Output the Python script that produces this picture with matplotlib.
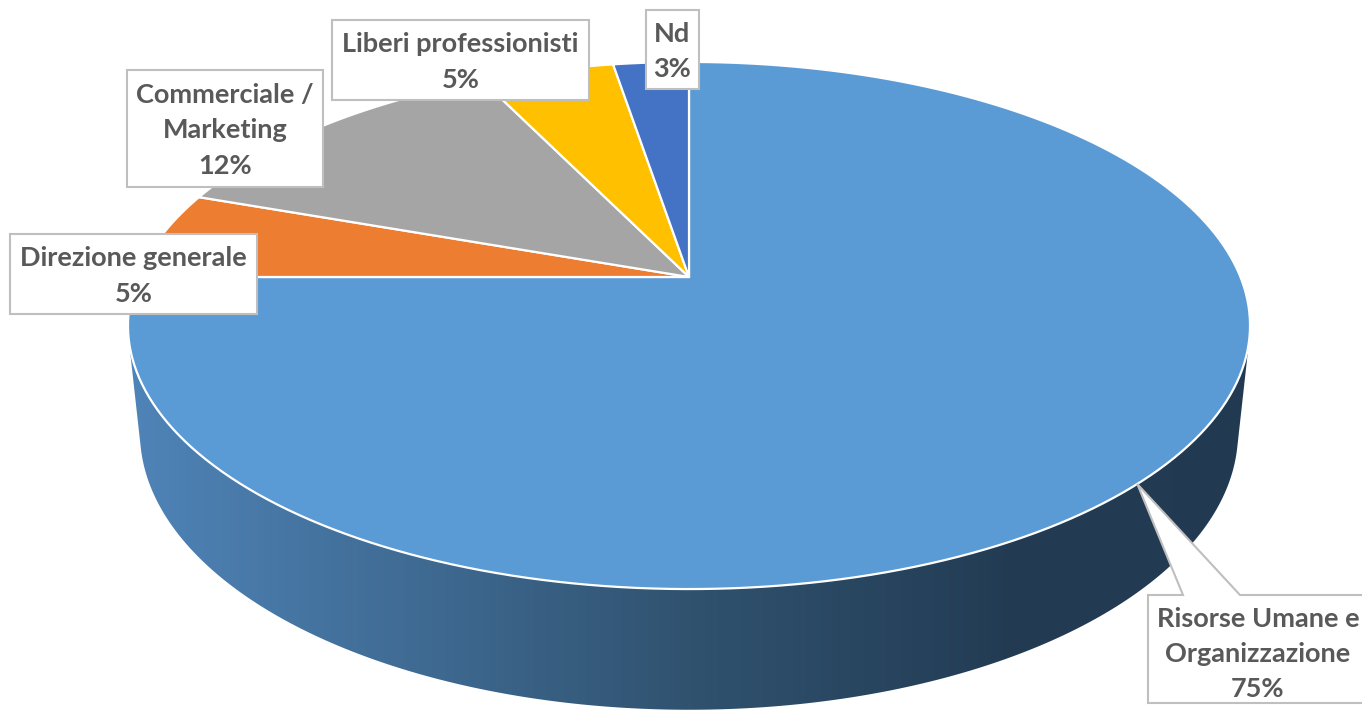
import numpy as np
import matplotlib.pyplot as plt
from matplotlib.patches import Polygon, Rectangle
from matplotlib.colors import LinearSegmentedColormap

# Dati (quote percentuali, in senso orario dalle ore 12)
categorie = ["Risorse Umane e\nOrganizzazione", "Direzione generale",
             "Commerciale /\nMarketing", "Liberi professionisti", "Nd"]
quote = [75.0, 5.4, 12.4, 4.6, 2.6]
colori = ["#5B9BD5", "#ED7D31", "#A5A5A5", "#FFC000", "#4472C4"]

# Parametri della vista 3D (prospettiva tipo Excel)
ELEV = np.radians(27.5)
DIST = 4.82
FOC = 2658
SPESSORE = 0.22
CX, CY = 689, 277


def proietta(theta, z=0.0):
    u = np.sin(theta)
    v = np.cos(theta)
    depth = DIST + v * np.cos(ELEV) - z * np.sin(ELEV)
    up = v * np.sin(ELEV) + z * np.cos(ELEV)
    return CX + FOC * u / depth, CY - FOC * up / depth


def main():
    fig = plt.figure(figsize=(13.62, 7.12), dpi=100)
    ax = fig.add_axes([0, 0, 1, 1])

    # Angoli delle fette
    tot = sum(quote)
    bordi = np.concatenate([[0], np.cumsum(quote)]) / tot * 2 * np.pi

    # Lato visibile del cilindro (solo la parte frontale)
    t1 = np.arccos(-1 / (DIST * np.cos(ELEV)))
    th = np.linspace(t1, 2 * np.pi - t1, 200)
    xs, ys = proietta(th)
    xb, yb = proietta(th[::-1], -SPESSORE)
    lato = Polygon(np.column_stack([np.r_[xs, xb], np.r_[ys, yb]]),
                   closed=True, facecolor="none", edgecolor="none")
    ax.add_patch(lato)
    cmap = LinearSegmentedColormap.from_list(
        "lato", [(0.0, "#4F84B8"), (0.5, "#30526F"), (0.78, "#233C54"), (1.0, "#223A51")])
    img = ax.imshow(np.linspace(0, 1, 256)[None, :], cmap=cmap, aspect="auto",
                    extent=[xs.min(), xs.max() + 5, 720, 250], zorder=1)
    img.set_clip_path(lato)
    ax.set_xlim(0, 1362)
    ax.set_ylim(712, 0)
    ax.axis("off")

    # Faccia superiore
    for i in range(len(quote)):
        t = np.linspace(bordi[i], bordi[i + 1], 200)
        x, y = proietta(t)
        pts = np.column_stack([np.r_[CX, x], np.r_[CY, y]])
        ax.add_patch(Polygon(pts, closed=True, facecolor=colori[i],
                             edgecolor="white", linewidth=1.6, zorder=2))

    font = dict(family="Lato", fontweight="bold", color="#595959",
                fontsize=19.5, ha="center", va="center", linespacing=1.55, zorder=5)
    testi = [f"{c}\n{q:.0f}%" for c, q in zip(categorie, quote)]

    # Etichette con riquadro (x0, y0, x1, y1)
    riquadri = {1: (10, 234, 257, 314), 2: (127, 70, 323, 187),
                3: (332, 20, 589, 100), 4: (646, 10, 699, 89)}
    for i, (x0, y0, x1, y1) in riquadri.items():
        ax.add_patch(Rectangle((x0, y0), x1 - x0, y1 - y0, facecolor="white",
                               edgecolor="#BFBFBF", linewidth=1.5, zorder=4))
        ax.text((x0 + x1) / 2, (y0 + y1) / 2 + 2, testi[i], **font)

    # Fumetto per la fetta principale
    tx, ty = proietta((bordi[0] + bordi[1]) / 2)
    fumetto = [(1148, 595), (1183, 595), (tx, ty), (1240, 595), (1380, 595),
               (1380, 703), (1148, 703)]
    ax.add_patch(Polygon(fumetto, closed=True, facecolor="white",
                         edgecolor="#BFBFBF", linewidth=1.5, zorder=4))
    ax.text(1258, 654, testi[0], **font)

    fig.savefig("out.png", dpi=100)


if __name__ == "__main__":
    main()
